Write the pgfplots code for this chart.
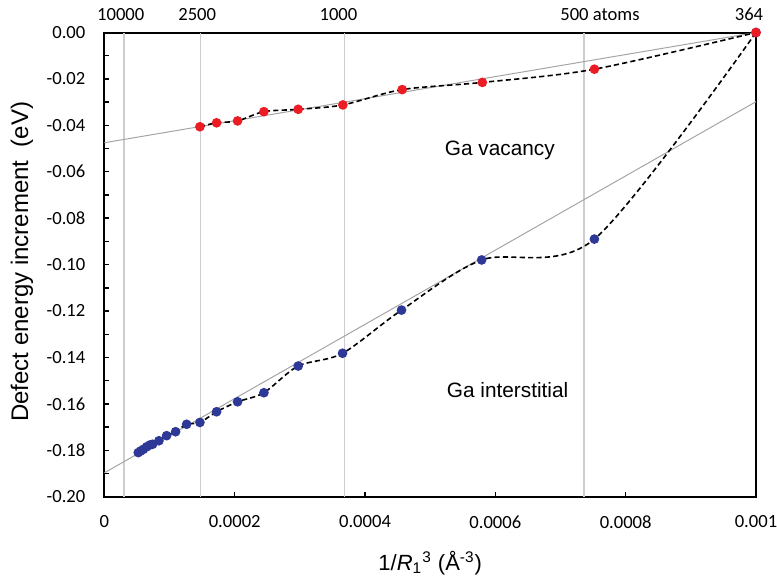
\documentclass[border=0pt]{standalone}
\usepackage{pgfplots}
\pgfplotsset{compat=1.18}
\usepackage{fontspec}
\setmainfont{Carlito}
\newfontfamily\arial{Liberation Sans}

\definecolor{vacred}{RGB}{236,28,36}
\definecolor{intblue}{RGB}{46,56,150}
\definecolor{fitgray}{RGB}{165,165,165}
\definecolor{atomgray}{RGB}{205,205,205}

\begin{document}
\begin{tikzpicture}
\begin{axis}[
    scale only axis,
    width=325.8pt, height=232.1pt,
    xmin=0, xmax=0.001, ymin=-0.2, ymax=0,
    axis line style={line width=1pt},
    tick align=inside,
    xtick pos=left, ytick pos=left,
    major tick length=2.5pt, minor tick length=2.5pt,
    every tick/.style={black, line width=0.7pt},
    scaled x ticks=false, scaled y ticks=false,
    xtick={0,0.0002,0.0004,0.0006,0.0008,0.001},
    xticklabels={0,0.0002,0.0004,0.0006,0.0008,0.001},
    ytick={-0.2,-0.18,-0.16,-0.14,-0.12,-0.1,-0.08,-0.06,-0.04,-0.02,0},
    yticklabels={-0.20,-0.18,-0.16,-0.14,-0.12,-0.10,-0.08,-0.06,-0.04,-0.02,0.00},
    minor ytick={-0.19,-0.17,-0.15,-0.13,-0.11,-0.09,-0.07,-0.05,-0.03,-0.01},
    ticklabel style={font=\fontsize{9.3}{11}\selectfont},
    xticklabel style={yshift=-6pt},
    yticklabel style={xshift=-6pt},
    clip=false,
]
% lines marking cluster sizes (atoms)
\addplot[atomgray, line width=0.6pt] coordinates {(0.00003,-0.2) (0.00003,0)};
\addplot[atomgray, line width=0.6pt] coordinates {(0.000148,-0.2) (0.000148,0)};
\addplot[atomgray, line width=0.6pt] coordinates {(0.000369,-0.2) (0.000369,0)};
\addplot[atomgray, line width=0.6pt] coordinates {(0.000736,-0.2) (0.000736,0)};

% linear fits
\addplot[fitgray, line width=0.5pt] coordinates {(0,-0.0475) (0.001,0)};
\addplot[fitgray, line width=0.5pt] coordinates {(0,-0.1897) (0.001,-0.0298)};

% Ga interstitial
\addplot[black, line width=0.8pt, dash pattern=on 2.6pt off 1.6pt, smooth,
    mark=*, mark size=2pt, mark options={solid, fill=intblue, draw=intblue}]
coordinates {
(0.000052,-0.1810) (0.0000557,-0.1803) (0.0000597,-0.1796) (0.0000649,-0.1785)
(0.0000699,-0.1777) (0.000074,-0.1774) (0.0000837,-0.1759) (0.0000955,-0.1737)
(0.0001093,-0.1720) (0.0001262,-0.1688) (0.0001466,-0.1680) (0.0001722,-0.1634)
(0.0002044,-0.1591) (0.0002448,-0.1552) (0.0002974,-0.1437) (0.0003655,-0.1382)
(0.000456,-0.1196) (0.000579,-0.0980) (0.000752,-0.0890) (0.001,0)
};

% Ga vacancy
\addplot[black, line width=0.8pt, dash pattern=on 2.6pt off 1.6pt, smooth,
    mark=*, mark size=2pt, mark options={solid, fill=vacred, draw=vacred}]
coordinates {
(0.0001466,-0.0406) (0.0001722,-0.0389) (0.0002044,-0.0381) (0.0002448,-0.0341)
(0.0002974,-0.0331) (0.000366,-0.0312) (0.000457,-0.0246) (0.000580,-0.0215)
(0.000752,-0.0158) (0.001,0)
};

% top labels
\node[anchor=base, yshift=5.8pt, xshift=-1.6pt, font=\fontsize{9.3}{11}\selectfont] at (axis cs:0.00003,0) {10000};
\node[anchor=base, yshift=5.8pt, xshift=-1.8pt, font=\fontsize{9.3}{11}\selectfont] at (axis cs:0.000148,0) {2500};
\node[anchor=base, yshift=5.8pt, xshift=-3.2pt, font=\fontsize{9.3}{11}\selectfont] at (axis cs:0.000369,0) {1000};
\node[anchor=base, yshift=5.8pt, xshift=8pt, font=\fontsize{9.3}{11}\selectfont] at (axis cs:0.000736,0) {500 atoms};
\node[anchor=base, yshift=5.8pt, xshift=-3.5pt, font=\fontsize{9.3}{11}\selectfont] at (axis cs:0.001,0) {364};

% series names
\node[anchor=west, inner sep=0pt, font=\arial\fontsize{10.4}{12}\selectfont] at (axis cs:0.000522,-0.0506) {Ga vacancy};
\node[anchor=west, inner sep=0pt, font=\arial\fontsize{10.4}{12}\selectfont] at (axis cs:0.000525,-0.154) {Ga interstitial};

% axis labels
\node[font=\arial\fontsize{11}{13}\selectfont, yshift=-33pt] at (rel axis cs:0.5,0)
    {1/\textit{R}\textsubscript{1}\textsuperscript{3} (Å\textsuperscript{-3})};
\node[rotate=90, font=\arial\fontsize{12}{14}\selectfont] at (axis description cs:-0.1265,0.506)
    {Defect energy increment~ (eV)};
\end{axis}
\pgfresetboundingbox
\path (-52.2pt,-39.15pt) rectangle (336.3pt,248.35pt);
\end{tikzpicture}
\end{document}
